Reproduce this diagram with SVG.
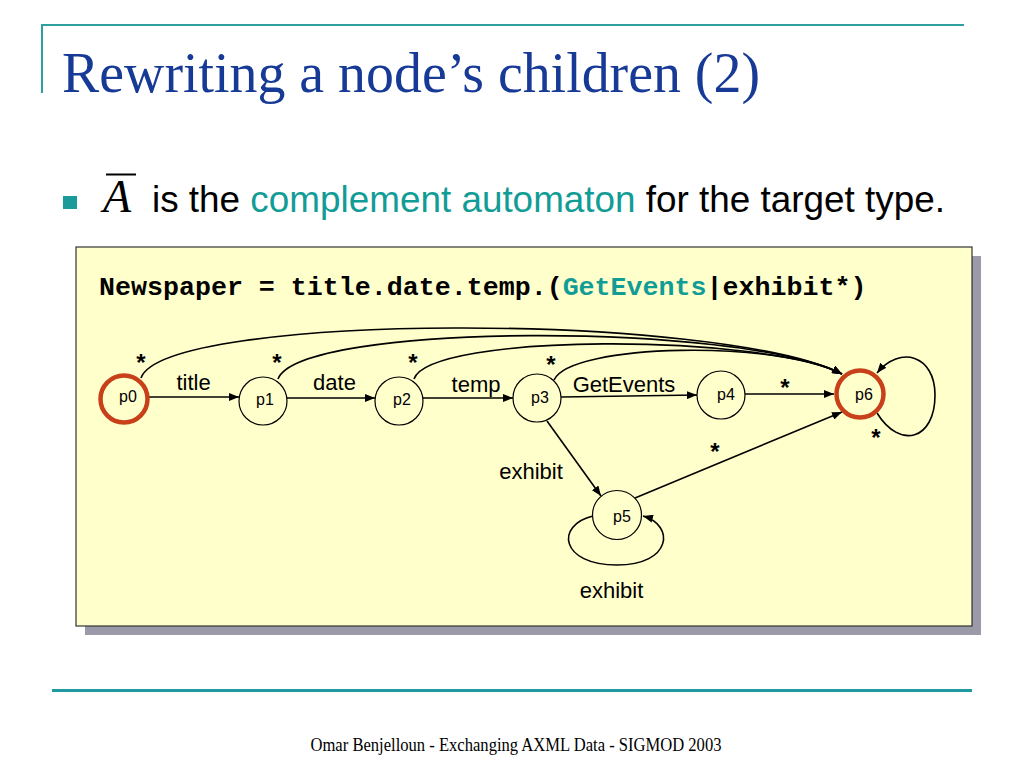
<svg xmlns="http://www.w3.org/2000/svg" width="1024" height="768" viewBox="0 0 1024 768">
<defs>
<style>
.lbl{font-family:"Liberation Sans",Arial,sans-serif;font-size:22px;fill:#000;text-anchor:middle}
.ast{font-family:"Liberation Sans",Arial,sans-serif;font-size:24px;font-weight:bold;fill:#000;text-anchor:middle}
.nl{font-family:"Liberation Sans",Arial,sans-serif;font-size:16px;fill:#000;text-anchor:middle}
.node{fill:#FFFFCC;stroke:#000;stroke-width:1.2}
.fin{fill:#FFFFCC;stroke:#C8401A;stroke-width:4.5}
.edge{fill:none;stroke:#000;stroke-width:1.6;marker-end:url(#ah)}
.teal{fill:#129C96}
</style>
<marker id="ah" markerWidth="10" markerHeight="8" refX="10" refY="4" orient="auto" markerUnits="userSpaceOnUse">
<path d="M0,0 L10,4 L0,8 z" fill="#000"/>
</marker>
</defs>
<rect width="1024" height="768" fill="#FFFFFF"/>
<g id="frame">
<line x1="42" y1="25" x2="964" y2="25" stroke="#2EA0A0" stroke-width="2"/>
<line x1="42" y1="24" x2="42" y2="93" stroke="#2EA0A0" stroke-width="2"/>
<line x1="52" y1="690.5" x2="972" y2="690.5" stroke="#1E9AA0" stroke-width="3"/>
</g>
<text x="62" y="92" font-family="Liberation Serif,'Times New Roman',serif" font-size="56" fill="#173A96" textLength="698" lengthAdjust="spacingAndGlyphs">Rewriting a node’s children (2)</text>
<rect x="63" y="196" width="14" height="13" fill="#1A9A9A"/>
<line x1="106" y1="174.5" x2="136" y2="174.5" stroke="#000" stroke-width="2"/>
<text x="103" y="212" font-family="Liberation Serif,'Times New Roman',serif" font-style="italic" font-size="46" fill="#000">A</text>
<text x="152" y="212" font-family="Liberation Sans,Arial,sans-serif" font-size="36.8" fill="#000" textLength="793" lengthAdjust="spacingAndGlyphs">is the <tspan class="teal">complement automaton</tspan> for the target type.</text>
<g id="box">
<rect x="85" y="256" width="896" height="379" fill="#9A9AA8"/>
<rect x="76" y="247" width="896" height="379" fill="#FFFFCC" stroke="#333" stroke-width="1.2"/>
<text x="99" y="295" font-family="Liberation Mono,'Courier New',monospace" font-weight="bold" font-size="26.65" fill="#000">Newspaper = title.date.temp.(<tspan class="teal">GetEvents</tspan>|exhibit*)</text>
</g>
<g id="connectors">
<path class="edge" d="M148,397 L239,397"/>
<path class="edge" d="M287,398 L375,398"/>
<path class="edge" d="M423,398 L513,398"/>
<path class="edge" d="M561,397 L697,395"/>
<path class="edge" d="M745,394 L834,394"/>
<path class="edge" d="M547,421 L601,496"/>
<path class="edge" d="M635,498 L842,412"/>
<path class="edge" d="M141,378 C165,312 720,312 842,374"/>
<path class="edge" d="M278,379 C300,322 740,322 842,374"/>
<path class="edge" d="M414,379 C430,333 760,333 842,374"/>
<path class="edge" d="M554,380 C570,343 780,340 842,374"/>
<path class="edge" d="M877,413 C900,450 935,440 935,395 C935,355 900,345 877,373"/>
<path class="edge" d="M593,516 C555,525 560,565 617,565 C672,565 675,525 643,516"/>
<text class="lbl" x="193.5" y="390">title</text>
<text class="lbl" x="334.5" y="390">date</text>
<text class="lbl" x="476" y="392">temp</text>
<text class="lbl" x="624" y="392">GetEvents</text>
<text class="lbl" x="531" y="479">exhibit</text>
<text class="lbl" x="611.5" y="598">exhibit</text>
<text class="ast" x="141" y="371">*</text>
<text class="ast" x="277" y="371">*</text>
<text class="ast" x="413" y="371">*</text>
<text class="ast" x="551" y="373">*</text>
<text class="ast" x="785" y="396">*</text>
<text class="ast" x="715" y="460">*</text>
<text class="ast" x="876" y="446">*</text>
</g>
<g id="p0"><circle class="fin" cx="124" cy="399" r="23.5"/><text class="nl" x="128" y="402">p0</text></g>
<g id="p1"><circle class="node" cx="263" cy="401" r="24"/><text class="nl" x="265" y="405">p1</text></g>
<g id="p2"><circle class="node" cx="399" cy="401" r="24"/><text class="nl" x="402" y="405">p2</text></g>
<g id="p3"><circle class="node" cx="537" cy="398" r="24"/><text class="nl" x="540" y="403">p3</text></g>
<g id="p4"><circle class="node" cx="721" cy="395" r="24"/><text class="nl" x="726" y="400">p4</text></g>
<g id="p6"><circle class="fin" cx="860" cy="394" r="23.5"/><text class="nl" x="864" y="400">p6</text></g>
<g id="p5"><circle class="node" cx="617" cy="515" r="24.5"/><text class="nl" x="622" y="522">p5</text></g>
<text x="516" y="751" font-family="Liberation Serif,'Times New Roman',serif" font-size="18" fill="#000" text-anchor="middle" textLength="411" lengthAdjust="spacingAndGlyphs">Omar Benjelloun - Exchanging AXML Data - SIGMOD 2003</text>
</svg>
